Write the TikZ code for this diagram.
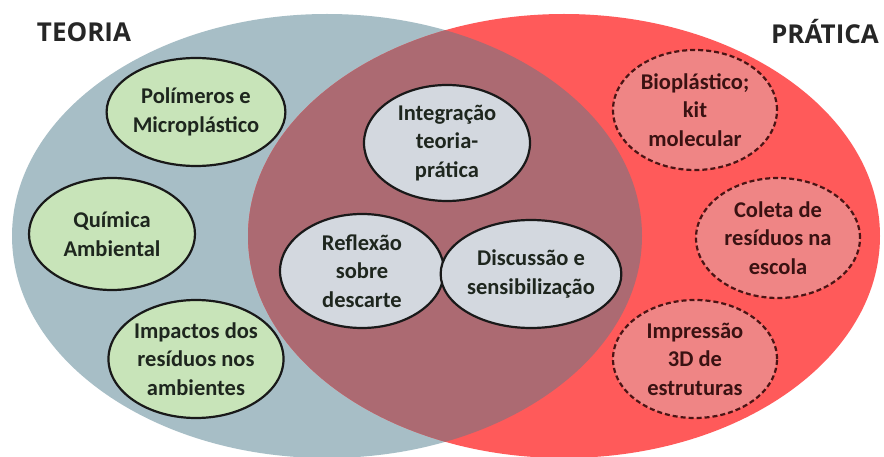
\documentclass[tikz,border=0pt]{standalone}
\usepackage{fontspec}
\setmainfont{Carlito}
\newfontfamily\titlefont{Open Sans}
\usetikzlibrary{shapes.geometric}
\definecolor{teoriabg}{HTML}{A7BEC6}
\definecolor{praticabg}{HTML}{FF5A5A}
\definecolor{bothbg}{HTML}{AC6A72}
\definecolor{greenfill}{HTML}{C8E4B9}
\definecolor{greyfill}{HTML}{D3D8DF}
\definecolor{pinkfill}{HTML}{EF8585}
\definecolor{dashcol}{HTML}{4A1414}
\definecolor{txtdark}{HTML}{1E261E}
\definecolor{txtred}{HTML}{3A1212}
\tikzset{
  bubble/.style={ellipse, inner sep=0pt, align=center,
    font=\fontsize{22.5}{28.5}\selectfont\bfseries, line width=2.2pt},
  teo/.style={bubble, draw=black!90, fill=greenfill, text=txtdark},
  mid/.style={bubble, draw=black!90, fill=greyfill, text=txtdark},
  pra/.style={bubble, draw=dashcol, fill=pinkfill, text=txtred,
    dash pattern=on 5pt off 3pt},
  title/.style={font=\titlefont\fontsize{26}{30}\selectfont\bfseries, text=black!85, inner sep=0pt}
}
\begin{document}
\begin{tikzpicture}[x=1pt,y=-1pt]
\useasboundingbox (0,0) rectangle (884,457);
\fill[white] (0,0) rectangle (884,457);
% big circles
\fill[teoriabg] (327,236) ellipse [x radius=315pt, y radius=222pt];
\fill[praticabg] (564,236) ellipse [x radius=316pt, y radius=222pt];
\begin{scope}
  \clip (327,236) ellipse [x radius=315pt, y radius=222pt];
  \fill[bothbg] (564,236) ellipse [x radius=316pt, y radius=222pt];
\end{scope}
% titles
\node[title] (teoria) at (84,32) {TEORIA};
\node[title] (pratica) at (825,32) {PRÁTICA};
% theory bubbles
\node[teo, minimum width=166pt, minimum height=108pt] (pol) at (196,112) {Polímeros e\\Microplástico};
\node[teo, minimum width=166pt, minimum height=112pt] (qui) at (112,234) {Química\\Ambiental};
\node[teo, minimum width=168pt, minimum height=118pt] (imp) at (196,359) {Impactos dos\\resíduos nos\\ambientes};
% middle bubbles
\node[mid, minimum width=166pt, minimum height=116pt] (int) at (447,143) {Integração\\teoria-\\prática};
\node[mid, minimum width=164pt, minimum height=114pt] (ref) at (362,271) {Reflexão\\sobre\\descarte};
\node[mid, minimum width=166pt, minimum height=108pt] (dis) at (531,274) {Discussão e\\sensibilização};
% practice bubbles
\node[pra, minimum width=164pt, minimum height=120pt] (bio) at (695,110) {Bioplástico;\\kit\\molecular};
\node[pra, minimum width=164pt, minimum height=120pt] (col) at (778,238) {Coleta de\\resíduos na\\escola};
\node[pra, minimum width=164pt, minimum height=118pt] (ipr) at (695,359) {Impressão\\3D de\\estruturas};
\end{tikzpicture}
\end{document}
